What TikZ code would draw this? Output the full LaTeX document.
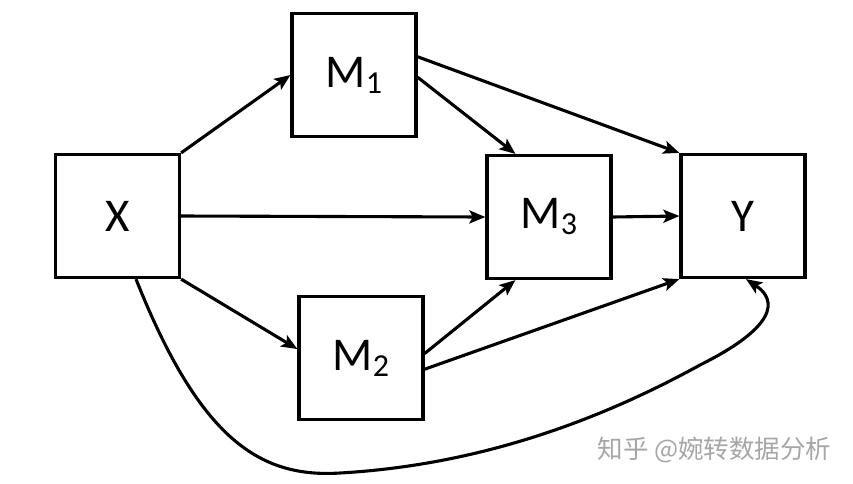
\documentclass[tikz,border=0pt]{standalone}
\usepackage{fontspec}
\setmainfont{Carlito}
\newfontfamily\cjk{Noto Sans CJK SC}
\usetikzlibrary{arrows.meta}
\newcommand{\Msub}[1]{M\raisebox{-6pt}{\fontsize{32}{32}\selectfont #1}}
\begin{document}
\begin{tikzpicture}[x=1pt,y=-1pt,
  box/.style={draw=black,line width=3.2pt,rectangle,inner sep=0pt,
    minimum width=124pt,minimum height=123pt,
    font=\fontsize{47}{50}\selectfont},
  conn/.style={line width=3.1pt,-{Stealth[length=16pt,width=13pt,inset=3.5pt]}},
  wmark/.style={font=\cjk\fontsize{25.5}{27}\selectfont,text=black!35}]
\useasboundingbox (0,0) rectangle (853,483);
\node[box] (X)  at (117.5,216) {X};
\node[box] (M1) at (354,75)  {\Msub{1}};
\node[box] (M3) at (549,217) {\Msub{3}};
\node[box] (Y)  at (743,216) {Y};
\node[box] (M2) at (361,358) {\Msub{2}};
\draw[conn] (X.north east) -- (M1.west);
\draw[conn] (X.east) -- (M3.west);
\draw[conn] (X.south east) -- (M2.172);
\draw[conn] (M1.16) -- (Y.north west);
\draw[conn] (M1.-2) -- (M3.north west -| M3.118);
\draw[conn] (M3.east) -- (Y.west);
\draw[conn] (M2.4) -- (M3.south west -| M3.-118);
\draw[conn] (M2.-10) -- (Y.south west);
\coordinate (Xb) at (X.south west -| 136,0);
\coordinate (Yb) at (Y.south west -| 746,0);
\draw[conn] (Xb) .. controls (200,440) and (260,478) .. (340,473)
  .. controls (480,465) and (600,420) .. (700,365)
  .. controls (790,320) and (770,295) .. (Yb);
\node[wmark,anchor=west] (wm) at (594,450) {知乎 @婉转数据分析};
\end{tikzpicture}
\end{document}
